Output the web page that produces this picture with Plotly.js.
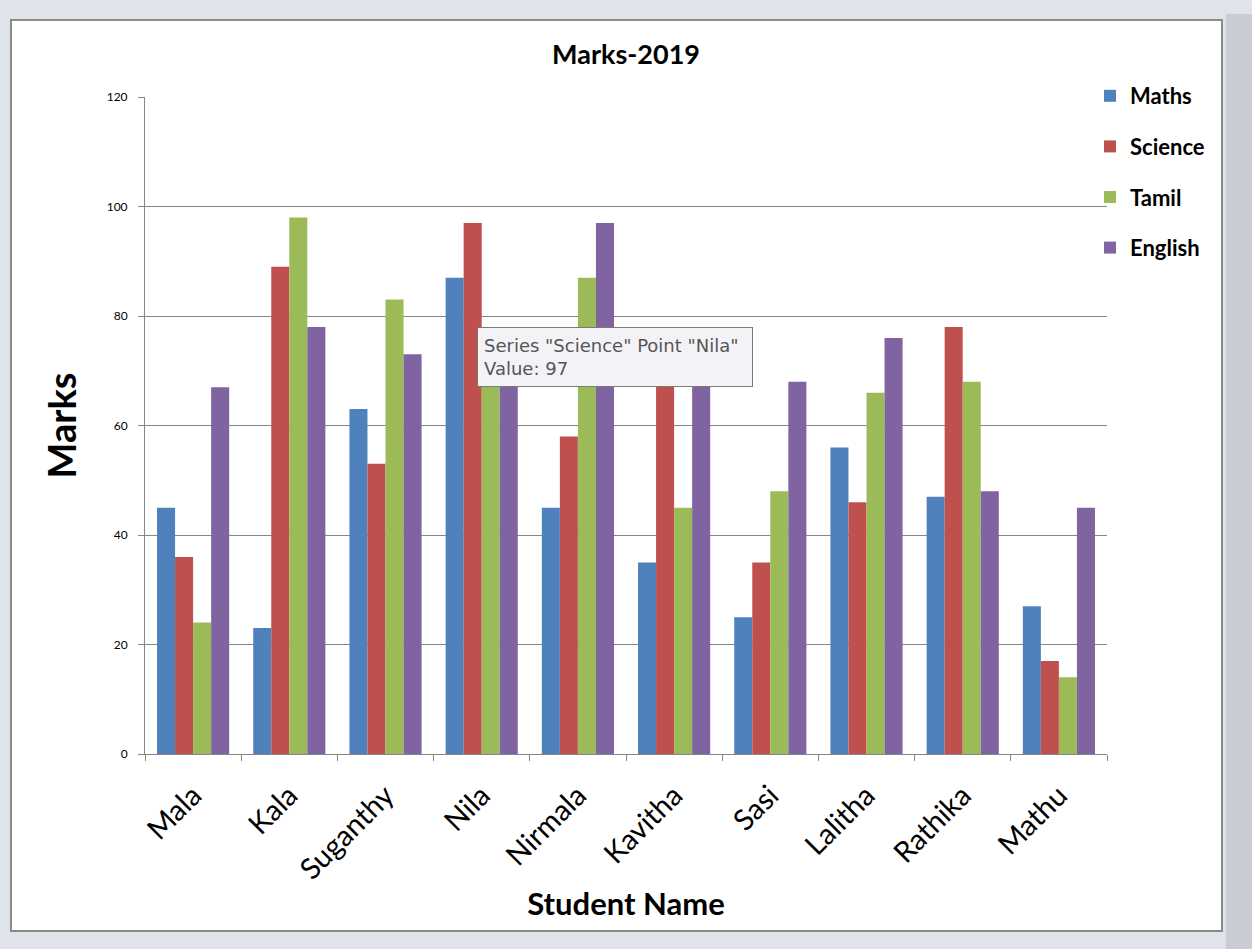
<!DOCTYPE html>
<html>
<head>
<meta charset="utf-8">
<script src="https://cdn.plot.ly/plotly-3.0.1.min.js"></script>
<style>
html,body{margin:0;padding:0;background:#dfe3ea;}
#chart{width:1252px;height:949px;}
</style>
</head>
<body>
<div id="chart"></div>
<script>
const students = ["Mala","Kala","Suganthy","Nila","Nirmala","Kavitha","Sasi","Lalitha","Rathika","Mathu"];
const maths   = [45, 23, 63, 87, 45, 35, 25, 56, 47, 27];
const science = [36, 89, 53, 97, 58, 72, 35, 46, 78, 17];
const tamil   = [24, 98, 83, 70, 87, 45, 48, 66, 68, 14];
const english = [67, 78, 73, 72, 97, 70, 68, 76, 48, 45];
const seriesNames = ["Maths","Science","Tamil","English"];
const seriesColors = ["#4f81bd","#c0504d","#9bbb59","#8064a2"];
const yTicks = [0, 20, 40, 60, 80, 100, 120];

const seriesData = [maths, science, tamil, english];
const traces = seriesData.map((vals, i) => ({
  type: "bar",
  name: seriesNames[i],
  x: students,
  y: vals,
  legendgroup: "g" + i,
  marker: {color: seriesColors[i], line: {width: 0}},
  hoverinfo: "none"
}));

const L = 145, R = 145, T = 97, B = 195;
const W = 1252 - L - R, H = 949 - T - B;
const px = v => (v - L) / W;
const py = v => (949 - B - v) / H;
const FONT = "Lato, 'Open Sans', sans-serif";

const layout = {
  width: 1252, height: 949,
  margin: {l: L, r: R, t: T, b: B},
  paper_bgcolor: "#dfe3ea",
  plot_bgcolor: "rgba(0,0,0,0)",
  font: {family: FONT, color: "#000"},
  barmode: "group",
  bargap: 0.25,
  bargroupgap: 0,
  showlegend: true,
  title: {
    text: "<b>Marks-2019</b>",
    font: {family: FONT, size: 27, color: "#000"},
    x: 0.5, xanchor: "center", xref: "paper",
    y: 1 - 55 / 949, yanchor: "middle", yref: "container"
  },
  xaxis: {
    type: "category",
    tickson: "boundaries",
    ticks: "outside", ticklen: 6, tickcolor: "#868686",
    showline: true, linecolor: "#868686", linewidth: 1,
    showgrid: false,
    tickangle: -45,
    ticklabelstandoff: 12,
    tickfont: {family: FONT, size: 29, color: "#000"},
    title: {text: "<b>Student Name</b>", font: {family: FONT, size: 31, color: "#000"}, standoff: 8},
    automargin: false
  },
  yaxis: {
    range: [0, 120],
    tickvals: yTicks,
    ticktext: yTicks.map(String),
    ticks: "outside", ticklen: 6, tickcolor: "#868686",
    showline: true, linecolor: "#868686", linewidth: 1,
    showgrid: true, gridcolor: "#868686", gridwidth: 1,
    zeroline: false,
    ticklabelstandoff: 8,
    tickfont: {family: FONT, size: 12, color: "#000"},
    title: {text: "<b>Marks</b>", font: {family: FONT, size: 38, color: "#000"}, standoff: 18},
    automargin: false
  },
  legend: {
    x: px(1090), y: py(75), xanchor: "left", yanchor: "top",
    bgcolor: "rgba(0,0,0,0)",
    font: {family: FONT, size: 22, color: "#000", weight: "bold"},
    traceorder: "grouped",
    tracegroupgap: 19,
    itemwidth: 30
  },
  shapes: [
    {type: "rect", xref: "paper", yref: "paper", layer: "below",
     x0: px(11), x1: px(1222), y0: py(931), y1: py(20),
     fillcolor: "#ffffff", line: {color: "#8a8a8a", width: 2}},
    {type: "rect", xref: "paper", yref: "paper", layer: "below",
     x0: px(1226), x1: px(1252), y0: py(949), y1: py(14),
     fillcolor: "#c9cdd3", line: {width: 0}}
  ],
  annotations: [
    {xref: "paper", yref: "paper", x: px(477), y: py(327), xanchor: "left", yanchor: "top",
     text: "Series \"Science\" Point \"Nila\"<br>Value: 97",
     align: "left", showarrow: false,
     width: 262, height: 46,
     font: {family: "'DejaVu Sans', sans-serif", size: 18, color: "#555"},
     bgcolor: "#f3f3f7", bordercolor: "#7a7a7a", borderwidth: 1, borderpad: 6}
  ]
};

Plotly.newPlot("chart", traces, layout, {displayModeBar: false, staticPlot: true});
</script>
</body>
</html>
